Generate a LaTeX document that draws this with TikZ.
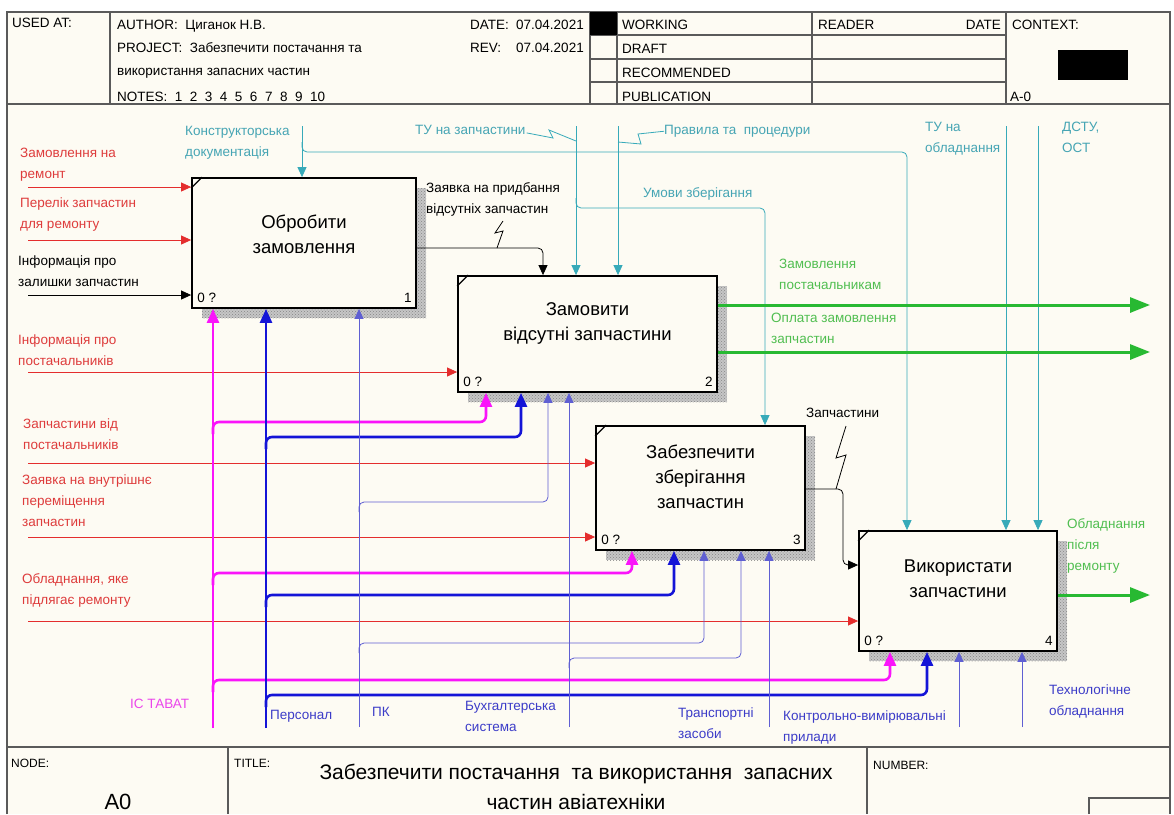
\documentclass[tikz,border=0pt]{standalone}
\usepackage{fontspec}
\setmainfont{Liberation Sans}
\usetikzlibrary{arrows.meta,patterns}
\definecolor{bgc}{RGB}{253,251,243}
\definecolor{redl}{RGB}{228,45,45}
\definecolor{redt}{RGB}{222,60,60}
\definecolor{teall}{RGB}{55,170,185}
\definecolor{tealt}{RGB}{70,165,180}
\definecolor{greenl}{RGB}{40,185,50}
\definecolor{greent}{RGB}{80,190,80}
\definecolor{magl}{RGB}{250,20,250}
\definecolor{magt}{RGB}{235,70,235}
\definecolor{bluek}{RGB}{20,20,215}
\definecolor{bluet}{RGB}{95,95,210}
\definecolor{bluetxt}{RGB}{60,60,200}
\definecolor{framec}{RGB}{90,90,90}
\begin{document}
\begin{tikzpicture}[x=1pt,y=-1pt,
  lbl/.style={anchor=north west,inner sep=0pt,align=left,font=\fontsize{13.5}{21}\selectfont},
  hdr/.style={anchor=base west,inner sep=0pt,font=\fontsize{13.5}{16}\selectfont},
  ftr/.style={anchor=base west,inner sep=0pt,font=\fontsize{12}{14}\selectfont},
  fun/.style={draw=black,line width=1.8pt,fill=bgc,inner sep=0pt},
  funtext/.style={align=center,inner sep=0pt,font=\fontsize{18.5}{25}\selectfont},
  num/.style={inner sep=0pt,font=\fontsize{13.5}{16}\selectfont},
  shade/.style={fill=gray!45},
  shadedots/.style={pattern=crosshatch dots,pattern color=gray!95},
  frameline/.style={draw=framec,line width=1.2pt},
  tarrow/.style={line width=0.8pt,-{Triangle[length=10pt,width=9pt]},rounded corners=5pt},
  karrow/.style={line width=2.6pt,-{Triangle[length=14pt,width=12pt]},rounded corners=6pt},
  garrow/.style={line width=3pt,draw=greenl,-{Triangle[length=20pt,width=15pt]}},
  corner/.style={line width=1.2pt}]
\useasboundingbox (0,0) rectangle (1174,814);
\fill[white] (0,0) rectangle (1174,814);
\fill[bgc] (7,12) rectangle (1170,814);
% ---------- frame & header ----------
\draw[frameline] (7,814) -- (7,12) -- (1170,12) -- (1170,814);
\draw[frameline] (7,104) -- (1170,104);
\draw[frameline] (110,12) -- (110,104);
\draw[frameline] (590,12) -- (590,104);
\draw[frameline] (617,12) -- (617,104);
\draw[frameline] (812,12) -- (812,104);
\draw[frameline] (1006,12) -- (1006,104);
\draw[frameline] (590,35) -- (1006,35);
\draw[frameline] (590,59) -- (1006,59);
\draw[frameline] (590,82) -- (1006,82);
\fill[black] (590,12) rectangle (617,35);
\fill[black] (1058,50) rectangle (1128,80);
\node[hdr] (usedat) at (12,27) {USED AT:};
\node[hdr] (author) at (117,29) {AUTHOR:\ \ Циганок Н.В.};
\node[hdr] (project) at (117,52) {PROJECT:\ \ Забезпечити постачання та};
\node[hdr] (project2) at (117,75) {використання запасних частин};
\node[hdr] (notes) at (117,101) {NOTES:\ \ 1\ \ 2\ \ 3\ \ 4\ \ 5\ \ 6\ \ 7\ \ 8\ \ 9\ \ 10};
\node[hdr] (datel) at (470,29) {DATE:};
\node[hdr] (datev) at (516,29) {07.04.2021};
\node[hdr] (revl) at (470,52) {REV:};
\node[hdr] (revv) at (516,52) {07.04.2021};
\node[hdr] (working) at (622,29) {WORKING};
\node[hdr] (draft) at (622,53) {DRAFT};
\node[hdr] (recom) at (622,77) {RECOMMENDED};
\node[hdr] (publ) at (622,101) {PUBLICATION};
\node[hdr] (reader) at (818,29) {READER};
\node[hdr,anchor=base east] (rdate) at (1001,29) {DATE};
\node[hdr] (context) at (1012,29) {CONTEXT:};
\node[hdr] (azero) at (1010,101) {A-0};
% ---------- footer ----------
\draw[frameline] (7,747) -- (1170,747);
\draw[frameline] (228,747) -- (228,814);
\draw[frameline] (867,747) -- (867,814);
\draw[frameline] (1089,814) -- (1089,798) -- (1170,798);
\node[ftr] (nodel) at (11,767) {NODE:};
\node[ftr] (titlel) at (234,767) {TITLE:};
\node[ftr] (numl) at (873,769) {NUMBER:};
\node[inner sep=0pt,anchor=base,font=\fontsize{22}{24}\selectfont] (a0) at (118,809) {A0};
\node[inner sep=0pt,align=center,font=\fontsize{21}{30}\selectfont] (title) at (576,787) {Забезпечити постачання\ \ та використання\ \ запасних\\частин авіатехніки};
% ---------- labels ----------
\node[lbl,text=redt] (l1) at (20,148) {Замовлення на\\ремонт};
\node[lbl,text=redt] (l2) at (20,198) {Перелік запчастин\\для ремонту};
\node[lbl,text=black] (l3) at (18,256) {Інформація про\\залишки запчастин};
\node[lbl,text=redt] (l4) at (18,335) {Інформація про\\постачальників};
\node[lbl,text=redt] (l5) at (23,419) {Запчастини від\\постачальників};
\node[lbl,text=redt] (l6) at (22,475) {Заявка на внутрішнє\\переміщення\\запчастин};
\node[lbl,text=redt] (l7) at (22,573) {Обладнання, яке\\підлягає ремонту};
\node[lbl,text=tealt] (lc1) at (185,126) {Конструкторська\\документація};
\node[lbl,text=tealt] (lc2) at (415,125) {ТУ на запчастини};
\node[lbl,text=tealt] (lc3) at (664,125) {Правила та\ \ процедури};
\node[lbl,text=tealt] (lc4) at (643,187) {Умови зберігання};
\node[lbl,text=tealt] (lc5) at (925,122) {ТУ на\\обладнання};
\node[lbl,text=tealt] (lc6) at (1062,122) {ДСТУ,\\ОСТ};
\node[lbl,text=black] (lo1) at (426,182) {Заявка на придбання\\відсутніх запчастин};
\node[lbl,text=greent] (lo2) at (779,259) {Замовлення\\постачальникам};
\node[lbl,text=greent] (lo3) at (771,313) {Оплата замовлення\\запчастин};
\node[lbl,text=black] (lo4) at (806,408) {Запчастини};
\node[lbl,text=greent] (lo5) at (1067,518) {Обладнання\\після\\ремонту};
\node[lbl,text=magt] (lm1) at (130,699) {ІС ТАВАТ};
\node[lbl,text=bluetxt] (lm2) at (270,710) {Персонал};
\node[lbl,text=bluetxt] (lm3) at (372,707) {ПК};
\node[lbl,text=bluetxt] (lm4) at (465,701) {Бухгалтерська\\система};
\node[lbl,text=bluetxt] (lm5) at (678,708) {Транспортні\\засоби};
\node[lbl,text=bluetxt] (lm6) at (783,711) {Контрольно-вимірювальні\\прилади};
\node[lbl,text=bluetxt] (lm7) at (1049,685) {Технологічне\\обладнання};
% ---------- shadows ----------
\fill[shade] (202,188) rectangle (426,318);
\fill[shadedots] (202,188) rectangle (426,318);
\fill[shade] (468,286) rectangle (727,402);
\fill[shadedots] (468,286) rectangle (727,402);
\fill[shade] (606,436) rectangle (815,560);
\fill[shadedots] (606,436) rectangle (815,560);
\fill[shade] (869,541) rectangle (1067,661);
\fill[shadedots] (869,541) rectangle (1067,661);
% ---------- boxes ----------
\node[fun,minimum width=224pt,minimum height=130pt] (b1) at (304,243) {};
\node[fun,minimum width=259pt,minimum height=116pt] (b2) at (587.5,334) {};
\node[fun,minimum width=209pt,minimum height=124pt] (b3) at (700.5,488) {};
\node[fun,minimum width=198pt,minimum height=120pt] (b4) at (958,591) {};
\foreach \b in {b1,b2,b3,b4}{
  \draw[corner] ([shift={(0,11)}]\b.north west) -- ([shift={(11,0)}]\b.north west);
  \node[num,anchor=base west] at ([shift={(6,-6)}]\b.south west) {0 ?};
}
\node[num,anchor=base east] (n1) at ([shift={(-5,-6)}]b1.south east) {1};
\node[num,anchor=base east] (n2) at ([shift={(-5,-6)}]b2.south east) {2};
\node[num,anchor=base east] (n3) at ([shift={(-5,-6)}]b3.south east) {3};
\node[num,anchor=base east] (n4) at ([shift={(-5,-6)}]b4.south east) {4};
\node[funtext] (t1) at ([shift={(0,-9)}]b1.center) {Обробити\\замовлення};
\node[funtext] (t2) at ([shift={(0,-11)}]b2.center) {Замовити\\відсутні запчастини};
\node[funtext] (t3) at ([shift={(0,-11)}]b3.center) {Забезпечити\\зберігання\\запчастин};
\node[funtext] (t4) at ([shift={(0,-12)}]b4.center) {Використати\\запчастини};
% ---------- inputs ----------
\coordinate (i1) at (28,187);
\coordinate (i2) at (28,240);
\coordinate (i3) at (28,295);
\coordinate (i4) at (28,372);
\coordinate (i5) at (28,463);
\coordinate (i6) at (28,537);
\coordinate (i7) at (28,621);
\draw[tarrow,redl] (i1) -- (i1 -| b1.west);
\draw[tarrow,redl] (i2) -- (i2 -| b1.west);
\draw[tarrow,black] (i3) -- (i3 -| b1.west);
\draw[tarrow,redl] (i4) -- (i4 -| b2.west);
\draw[tarrow,redl] (i5) -- (i5 -| b3.west);
\draw[tarrow,redl] (i6) -- (i6 -| b3.west);
\draw[tarrow,redl] (i7) -- (i7 -| b4.west);
% ---------- controls ----------
\coordinate (c1) at (302,126);
\coordinate (c2) at (576,126);
\coordinate (c3) at (618,126);
\coordinate (c4) at (1006,126);
\coordinate (c5) at (1038,126);
\draw[tarrow,teall] (c1) -- (c1 |- b1.north);
\draw[tarrow,teall] (302,142) -- (302,152) -- (907,152) -- (907,0 |- b4.north);
\draw[tarrow,teall] (c2) -- (c2 |- b2.north);
\draw[tarrow,teall] (576,198) -- (576,208) -- (765,208) -- (765,0 |- b3.north);
\draw[tarrow,teall] (c3) -- (c3 |- b2.north);
\draw[tarrow,teall] (c4) -- (c4 |- b4.north);
\draw[tarrow,teall] (c5) -- (c5 |- b4.north);
\draw[line width=0.8pt,teall] (lc2.east) ++(1,3) -- (553,138) -- (549,130) -- (576,141);
\draw[line width=0.8pt,teall] (618,142) -- (641,144) -- (638,134) -- (lc3.west);
% ---------- outputs ----------
\coordinate (oe1) at (1150,305);
\coordinate (oe2) at (1150,352);
\coordinate (oe3) at (1150,595);
\draw[garrow] (b2.east |- oe1) -- (oe1);
\draw[garrow] (b2.east |- oe2) -- (oe2);
\draw[garrow] (b4.east |- oe3) -- (oe3);
\draw[tarrow,black] (b1.east |- 0,248) -- (543,248) -- (543,0 |- b2.north);
\draw[line width=0.8pt,black] (503,221) -- (495,233) -- (503,231) -- (497,248);
\draw[tarrow,black] (b3.east |- 0,489) -- (843,489) -- (843,565) -- (b4.west |- 0,565);
\draw[line width=0.8pt,black] (846,426) -- (836,458) -- (846,455) -- (836,489);
% ---------- mechanisms ----------
\coordinate (m1) at (213,728);
\coordinate (m2) at (266,728);
\coordinate (m3) at (359,727);
\coordinate (m4) at (569,727);
\coordinate (m5) at (769,727);
\coordinate (m6) at (959,727);
\coordinate (m7) at (1022,727);
\draw[karrow,magl] (m1) -- (m1 |- b1.south);
\draw[karrow,magl] (213,434) -- (213,422) -- (486,422) -- (486,0 |- b2.south);
\draw[karrow,magl] (213,585) -- (213,573) -- (632,573) -- (632,0 |- b3.south);
\draw[karrow,magl] (213,692) -- (213,680) -- (890,680) -- (890,0 |- b4.south);
\draw[karrow,bluek] (m2) -- (m2 |- b1.south);
\draw[karrow,bluek] (266,449) -- (266,437) -- (521,437) -- (521,0 |- b2.south);
\draw[karrow,bluek] (266,607) -- (266,595) -- (674,595) -- (674,0 |- b3.south);
\draw[karrow,bluek] (266,707) -- (266,695) -- (927,695) -- (927,0 |- b4.south);
\draw[tarrow,bluet] (m3) -- (m3 |- b1.south);
\draw[tarrow,bluet] (359,512) -- (359,502) -- (548,502) -- (548,0 |- b2.south);
\draw[tarrow,bluet] (359,653) -- (359,643) -- (704,643) -- (704,0 |- b3.south);
\draw[tarrow,bluet] (m4) -- (m4 |- b2.south);
\draw[tarrow,bluet] (569,668) -- (569,658) -- (741,658) -- (741,0 |- b3.south);
\draw[tarrow,bluet] (m5) -- (m5 |- b3.south);
\draw[tarrow,bluet] (m6) -- (m6 |- b4.south);
\draw[tarrow,bluet] (m7) -- (m7 |- b4.south);
\end{tikzpicture}
\end{document}
